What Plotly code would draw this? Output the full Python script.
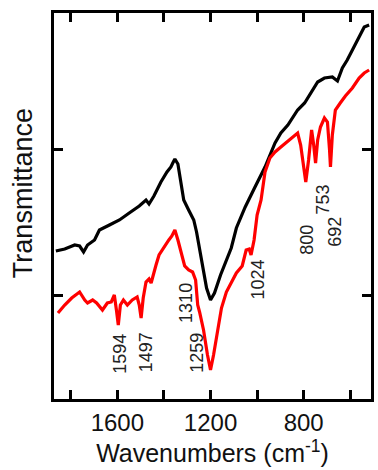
import plotly.graph_objects as go

# Black spectrum (wavenumber, transmittance in arbitrary units)
black_wn = [1864, 1826, 1783, 1762, 1745, 1728, 1698, 1677, 1634, 1591, 1549, 1506, 1477, 1464,
            1443, 1413, 1387, 1370, 1362, 1353, 1340, 1328, 1315, 1294, 1272, 1260, 1238, 1217,
            1200, 1183, 1157, 1132, 1111, 1089, 1051, 1009, 966, 923, 898, 868, 826, 796, 770,
            740, 711, 677, 655, 634, 613, 587, 562, 540, 519]
black_t = [148, 150, 154, 153, 147, 154, 159, 169, 174, 179, 186, 193, 199, 195,
           203, 217, 227, 232, 236, 240, 235, 219, 199, 189, 179, 167, 137, 111,
           99, 106, 124, 139, 151, 171, 192, 212, 232, 256, 266, 274, 289, 296, 306,
           317, 321, 322, 318, 331, 339, 351, 363, 372, 374]

# Red spectrum
red_wn = [1855, 1826, 1796, 1762, 1740, 1728, 1706, 1689, 1664, 1643, 1626, 1613, 1604, 1596,
          1587, 1574, 1557, 1536, 1515, 1506, 1498, 1489, 1477, 1464, 1455, 1447, 1434, 1421,
          1400, 1379, 1366, 1353, 1340, 1328, 1311, 1294, 1277, 1264, 1255, 1247, 1230, 1213,
          1200, 1187, 1170, 1153, 1132, 1111, 1089, 1064, 1047, 1034, 1026, 1013, 1000, 983,
          966, 945, 923, 898, 877, 851, 826, 813, 800, 791, 779, 766, 757, 749, 740, 728,
          711, 698, 689, 685, 677, 664, 643, 621, 591, 562, 540, 519]
red_t = [86, 94, 101, 107, 99, 96, 99, 96, 89, 96, 97, 104, 89, 74,
         94, 99, 94, 99, 102, 94, 81, 101, 117, 120, 116, 124, 134, 144,
         152, 159, 163, 169, 159, 147, 133, 129, 127, 119, 94, 87, 69, 44,
         29, 44, 69, 91, 107, 117, 126, 133, 149, 150, 144, 159, 184, 199,
         227, 241, 247, 252, 256, 261, 266, 254, 229, 217, 239, 269, 254, 236, 259, 272,
         281, 277, 249, 232, 264, 289, 296, 303, 311, 321, 326, 329]

# Peak labels
peak_labels = ["1594", "1497", "1310", "1259", "1024", "800", "753", "692"]
peak_wn = [1594, 1497, 1310, 1259, 1024, 800, 753, 692]
peak_t = [45, 47, 96, 46, 119, 159, 199, 167]

# Axis ticks
x_tickvals = [1600, 1200, 800]
x_ticktext = ["1600", "1200", "800"]
x_minor_tickvals = [1800, 1400, 1000, 600]
y_tickvals = [104, 250]

FONT = "Liberation Sans, Arial, sans-serif"

fig = go.Figure()
fig.add_trace(go.Scatter(x=black_wn, y=black_t, mode="lines",
                         line=dict(color="black", width=3.2), showlegend=False))
fig.add_trace(go.Scatter(x=red_wn, y=red_t, mode="lines",
                         line=dict(color="#ff0000", width=3.2), showlegend=False))

xshifts = [1, 5, 1, 0, 6, 3, 8, 6]
for lab, wn, t, xs in zip(peak_labels, peak_wn, peak_t, xshifts):
    fig.add_annotation(x=wn, y=t, text=lab, textangle=-90, showarrow=False,
                       xshift=xs, font=dict(family=FONT, size=18, color="#222"))

# Y axis title placed as a rotated annotation
fig.add_annotation(x=-0.097, y=0.534, xref="paper", yref="paper", text="Transmittance",
                   textangle=-90, showarrow=False, xanchor="center", yanchor="middle",
                   font=dict(family=FONT, size=27, color="#111"))

fig.update_layout(
    width=378, height=470,
    margin=dict(l=54, r=4, t=13, b=71),
    paper_bgcolor="white", plot_bgcolor="white",
    font=dict(family=FONT, color="#111"),
    xaxis=dict(range=[1872, 511], tickvals=x_tickvals, ticktext=x_ticktext,
               ticks="inside", ticklen=9, tickwidth=3, tickcolor="black",
               minor=dict(tickvals=x_minor_tickvals, ticks="inside", ticklen=9,
                          tickwidth=3, tickcolor="black"),
               showline=True, linecolor="black", linewidth=3, mirror="ticks",
               showgrid=False, zeroline=False,
               tickfont=dict(family=FONT, size=24, color="#111"),
               title=dict(text="Wavenumbers (cm<sup>-1</sup>)", standoff=6,
                          font=dict(family=FONT, size=25, color="#111"))),
    yaxis=dict(range=[0, 386], tickvals=y_tickvals, showticklabels=False,
               ticks="inside", ticklen=9, tickwidth=3, tickcolor="black",
               showline=True, linecolor="black", linewidth=3, mirror="ticks",
               showgrid=False, zeroline=False),
)

fig.write_html("out.html", config={"displayModeBar": False},
               post_script="document.body.style.margin='0';")
